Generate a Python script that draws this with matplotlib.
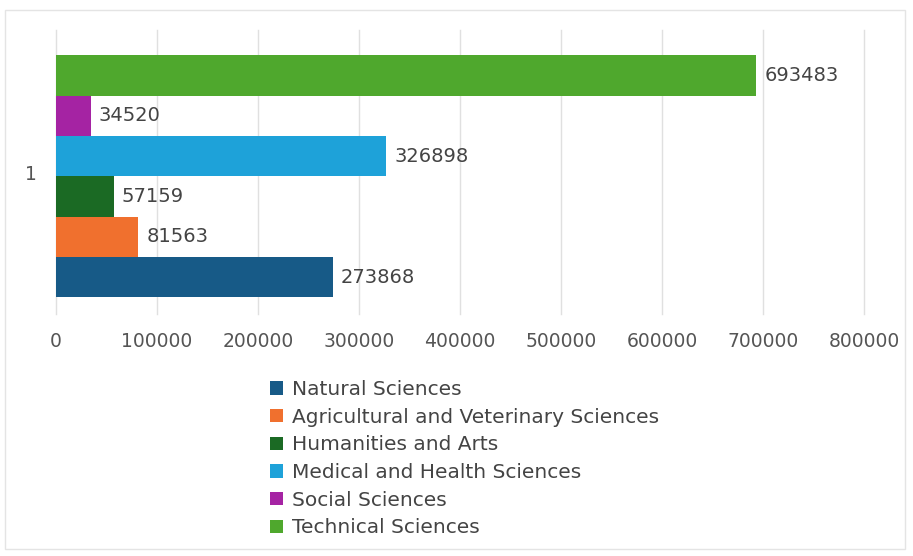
import matplotlib
matplotlib.use("Agg")
import matplotlib.pyplot as plt
from matplotlib.patches import Rectangle, Patch

categories = ["Natural Sciences", "Agricultural and Veterinary Sciences", "Humanities and Arts",
              "Medical and Health Sciences", "Social Sciences", "Technical Sciences"]
values = [273868, 81563, 57159, 326898, 34520, 693483]
colors = ["#175a87", "#f0702e", "#1b6a24", "#1ea2d9", "#a523a3", "#4fa82d"]
group_label = "1"
xticks = [0, 100000, 200000, 300000, 400000, 500000, 600000, 700000, 800000]

W, H = 913, 556
fig = plt.figure(figsize=(W / 100, H / 100), dpi=100)
fig.patches.append(Rectangle((5 / W, 1 - 549 / H), 900 / W, 539 / H, transform=fig.transFigure,
                             fill=False, edgecolor="#e4e4e4", linewidth=1))

ax = fig.add_axes([56 / W, 1 - 314 / H, (864 - 56) / W, (314 - 30) / H])
n = len(values)
bh = 0.142
start = -bh * n / 2 + bh / 2 - 0.015
for i, (v, c) in enumerate(zip(values, colors)):
    y = start + i * bh
    ax.barh(y, v, height=bh, color=c, zorder=3)
    ax.text(v + 8000, y, f"{v}", va="center", ha="left", fontsize=14, color="#444444", zorder=4)

ax.set_xlim(0, 800000)
ax.set_ylim(-0.5, 0.5)
ax.set_xticks(xticks)
ax.set_xticklabels([str(t) for t in xticks], fontsize=13.5, color="#555555")
ax.set_yticks([0])
ax.set_yticklabels([group_label], fontsize=13.5, color="#555555")
ax.tick_params(axis="x", length=0, pad=13)
ax.tick_params(axis="y", length=0, pad=14)
ax.grid(axis="x", color="#e0e0e0", linewidth=1, zorder=0)
for gl in ax.get_xgridlines():
    gl.set_clip_on(False)
for s in ax.spines.values():
    s.set_visible(False)

handles = [Patch(facecolor=c, edgecolor="none") for c in colors]
leg = fig.legend(handles, categories, loc="upper left", bbox_to_anchor=(270 / W, 1 - 380 / H),
                 frameon=False, fontsize=14.5, handlelength=0.65, handleheight=0.65,
                 handletextpad=0.45, labelspacing=0.43, borderpad=0, borderaxespad=0)
for t in leg.get_texts():
    t.set_color("#444444")

fig.savefig("out.png", dpi=100)
